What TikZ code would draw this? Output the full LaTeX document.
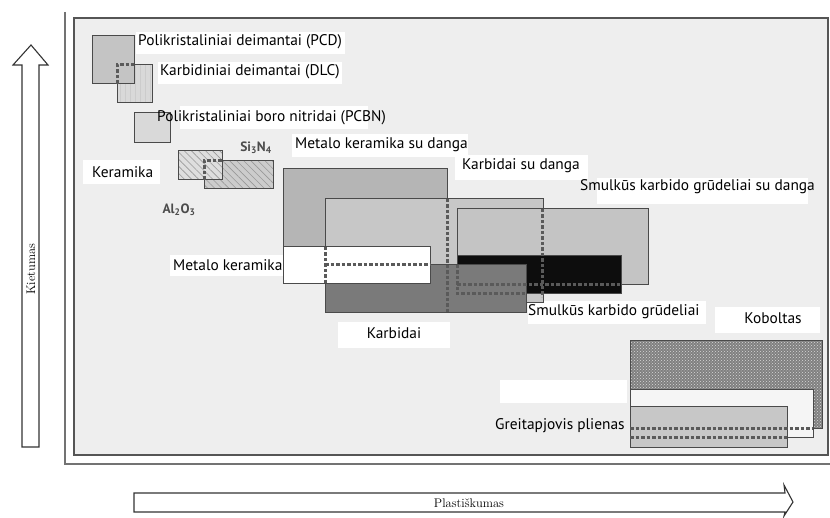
\documentclass[tikz,border=0pt]{standalone}
\usepackage{fontspec}
\setsansfont{PT Sans}
\usetikzlibrary{
    patterns,      % For dotted fills
    patterns.meta, % For hatched fills with own spacing
    positioning    % For label positioning
}

\definecolor{panelgray}{HTML}{EEEEEE}
\definecolor{framegray}{HTML}{555555}
\definecolor{edgegray}{HTML}{4A4A4A}
\definecolor{dashgray}{HTML}{5A5A5A}

\begin{document}
\begin{tikzpicture}[
    x=1pt, y=-1pt, % one unit = one pixel of the reference, y pointing down
    % Style for the material labels
    tag/.style={font=\sffamily\fontsize{15.4}{17}\selectfont, inner sep=0pt, anchor=west},
    formula/.style={font=\sffamily\bfseries\fontsize{13.5}{15}\selectfont, text=black!70, inner sep=0pt},
    plate/.style={fill=white},
    % Style for the material areas
    area/.style={draw=edgegray, line width=1pt},
    hatch/.style={area, pattern={Lines[angle=-45, distance=5pt, line width=0.6pt]}, pattern color=black!40},
    stripes/.style={area, pattern={Lines[angle=90, distance=5pt, line width=0.5pt]}, pattern color=black!20},
    % Style for hidden edges
    hidden/.style={draw=dashgray, line width=3pt, dash pattern=on 3.5pt off 2pt},
    axis/.style={draw=black!80, fill=white, line width=1.1pt, line join=miter},
    axislabel/.style={font=\fontsize{12.5}{14}\selectfont, inner sep=0pt}
]
    \useasboundingbox (0,0) rectangle (830,518);

    % Outer frame and panel
    \draw[black!55, line width=2pt] (65,12) -- (65,464) -- (830,464);
    \draw[framegray, fill=panelgray, line width=2pt] (74,18) rectangle (828,455);

    % White plates behind the labels
    \fill[plate] (136,32) rectangle (345,54);
    \fill[plate] (158,62) rectangle (342,84);
    \fill[plate] (180,106) rectangle (368,129);
    \fill[plate] (83,160) rectangle (160,184);
    \fill[plate] (292,134) rectangle (468,157);
    \fill[plate] (455,155) rectangle (588,180);
    \fill[plate] (597,178) rectangle (808,204);
    \fill[plate] (170,255) rectangle (283,276);
    \fill[plate] (338,322) rectangle (450,348);
    \fill[plate] (528,301) rectangle (706,324);
    \fill[plate] (715,307) rectangle (820,333);
    \fill[plate] (500,380) rectangle (627,403);

    % Diamonds and boron nitride
    \fill[black!15] (117,65) rectangle (152,103);
    \draw[stripes] (117,65) rectangle (152,103);
    \draw[area, fill=black!23] (92,36) rectangle (134,84);
    \draw[hidden] (117,84) -- (117,65) -- (134,65);
    \draw[area, fill=black!15] (134,113) rectangle (170,143);

    % Ceramics
    \fill[black!20] (204,161) rectangle (273,189);
    \draw[hatch] (204,161) rectangle (273,189);
    \fill[black!13] (178,151) rectangle (222,180);
    \draw[hatch] (178,151) rectangle (222,180);
    \draw[hidden] (204,180) -- (204,161) -- (222,161);

    % Cermets and carbides
    \draw[area, fill=black!29] (283,169) rectangle (447,284);
    \draw[area, fill=black!22] (325,199) rectangle (543,303);
    \draw[area, fill=black!23] (457,209) rectangle (648,285);
    \draw[area, fill=black!95] (457,256) rectangle (621,294);
    \draw[area, fill=black!52] (325,265) rectangle (526,313);
    \draw[area, fill=white] (283,247) rectangle (430,284);
    \draw[hidden] (325,247) -- (325,284);
    \draw[hidden] (325,265) -- (430,265);
    \draw[hidden] (447,199) -- (447,313);
    \draw[hidden] (542,209) -- (542,297);
    \draw[hidden] (457,265) -- (457,294) -- (526,294);
    \draw[hidden] (457,285) -- (621,285);

    % Cobalt and high speed steel
    \fill[black!50] (630,341) rectangle (822,428);
    \draw[area, pattern=crosshatch dots, pattern color=black!15] (630,341) rectangle (822,428);
    \draw[area, fill=black!4] (630,390) rectangle (813,437);
    \draw[area, fill=black!22] (630,407) rectangle (787,447);
    \draw[hidden] (630,428) -- (813,428);
    \draw[hidden] (630,437) -- (787,437);

    % Labels
    \node[tag] (pcd) at (138,42) {Polikristaliniai deimantai (PCD)};
    \node[tag] (dlc) at (160,72) {Karbidiniai deimantai (DLC)};
    \node[tag] (pcbn) at (157,118) {Polikristaliniai boro nitridai (PCBN)};
    \node[formula] (si) at (256,148) {Si\textsubscript{3}N\textsubscript{4}};
    \node[tag] (keramika) at (92,172) {Keramika};
    \node[formula] (al) at (179,210) {Al\textsubscript{2}O\textsubscript{3}};
    \node[tag] (mkd) at (295,145) {Metalo keramika su danga};
    \node[tag] (kd) at (462,166) {Karbidai su danga};
    \node[tag] (sd) at (580,187) {Smulkūs karbido grūdeliai su danga};
    \node[tag] (mk) at (173,265) {Metalo keramika};
    \node[tag, anchor=center] (karbidai) at (394,333) {Karbidai};
    \node[tag] (smulkus) at (528,312) {Smulkūs karbido grūdeliai};
    \node[tag, anchor=center] (koboltas) at (773,318) {Koboltas};
    \node[tag] (hss) at (495,426) {Greitapjovis plienas};

    % Axis arrows
    \draw[axis] (22,447) -- (22,65) -- (13,65) -- (31,45) -- (48,65) -- (39,65) -- (39,447) -- cycle;
    \node[axislabel, rotate=90] (kietumas) at (31,269) {Kietumas};
    \draw[axis] (134,493) -- (785,493) -- (784,485) -- (793,502) -- (784,516) -- (785,512) -- (134,512) -- cycle;
    \node[axislabel] (plast) at (469,503) {Plastiškumas};
\end{tikzpicture}
\end{document}
